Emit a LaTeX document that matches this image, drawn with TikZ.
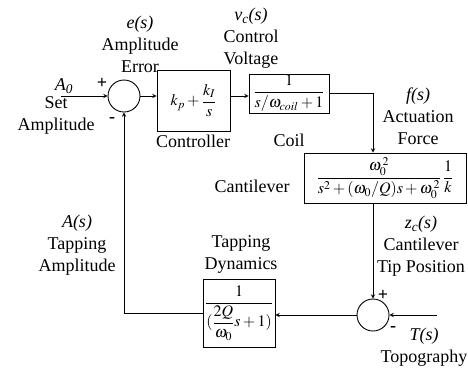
\documentclass[tikz,border=0pt]{standalone}
\usepackage{amsmath}
\usepackage{mathptmx}
\usepackage[no-math]{fontspec}
\setmainfont{Liberation Serif}
\begin{document}
\begin{tikzpicture}[
        x=1pt, y=-1pt,
        every node/.style={font=\fontsize{18}{22}\selectfont},
        block/.style={rectangle, draw=black, line width=0.9pt, inner sep=1pt, font=\fontsize{16}{19}\selectfont},
        sum/.style={circle, draw=black, line width=0.9pt, minimum size=32pt, inner sep=0pt},
        txt/.style={align=center, inner sep=0pt},
        sign/.style={inner sep=0pt, font=\fontsize{18}{18}\selectfont\bfseries},
        arrow/.style={line width=0.9pt, ->, >=stealth},
        wire/.style={line width=0.9pt}
        ]
        \useasboundingbox (0,0) rectangle (468,368);

        % Summing junctions
        \node[sum] (sum1) at (124,96) {};
        \node[sum] (sum2) at (373,315) {};

        % Blocks
        \node[block, minimum width=73pt, minimum height=61pt] (ctrl) at (193.5,100.5) {$k_p+\dfrac{k_I}{s}$};
        \node[block, minimum width=80pt, minimum height=39pt] (coil) at (289,93.5) {$\dfrac{1}{s/\omega_{coil}+1}$};
        \node[block, minimum width=162pt, minimum height=50pt] (cant) at (385,178) {$\dfrac{\omega_0^{\,2}}{s^2+(\omega_0/Q)s+\omega_0^{\,2}}\,\dfrac{1}{k}$};
        \node[block, minimum width=72pt, minimum height=68pt] (tap) at (239,313) {$\dfrac{1}{(\dfrac{2Q}{\omega_0}s+1)}$};

        % Free ends
        \coordinate (A0in) at (61,96);
        \coordinate (Tin) at (437,315);

        % Signal path
        \draw[arrow] (A0in) -- (sum1);
        \draw[arrow] (sum1) -- (sum1 -| ctrl.west);
        \draw[arrow] (ctrl.east |- sum1) -- (coil.west |- sum1);
        \draw[arrow] (coil.east) -| (cant.north -| sum2);
        \draw[arrow] (cant.south -| sum2) -- (sum2);
        \draw[arrow] (Tin) -- (sum2);
        \draw[arrow] (sum2) -- (sum2 -| tap.east);
        \draw[arrow] (tap.west) -| (sum1);

        % Signs
        \node[sign] (p1) at (102,83) {+};
        \node[sign] (m1) at (112,120) {-};
        \node[sign] (p2) at (383,295) {+};
        \node[sign] (m2) at (393,329) {-};

        % Signal names
        \node[txt] (A0) at (64,86) {\textit{A\textsubscript{0}}};
        \node[txt] (setamp) at (56,115) {Set\\Amplitude};
        \node[txt] (es) at (140,44) {\textit{e(s)}\\Amplitude\\Error};
        \node[txt] (vc) at (251,38) {\textit{v\textsubscript{c}(s)}\\Control\\Voltage};
        \node[txt] (fs) at (418,116) {\textit{f(s)}\\Actuation\\Force};
        \node[txt] (zc) at (421,246) {\textit{z\textsubscript{c}(s)}\\Cantilever\\Tip Position};
        \node[txt] (Ts) at (424,347) {\textit{T(s)}\\Topography};
        \node[txt] (As) at (77,245) {\textit{A(s)}\\Tapping\\Amplitude};

        % Block names
        \node[txt] (ctrlname) at (193,141) {Controller};
        \node[txt] (coilname) at (289,140) {Coil};
        \node[txt] (cantname) at (252,186) {Cantilever};
        \node[txt] (tapname) at (241,254) {Tapping\\Dynamics};

    \end{tikzpicture}
\end{document}
